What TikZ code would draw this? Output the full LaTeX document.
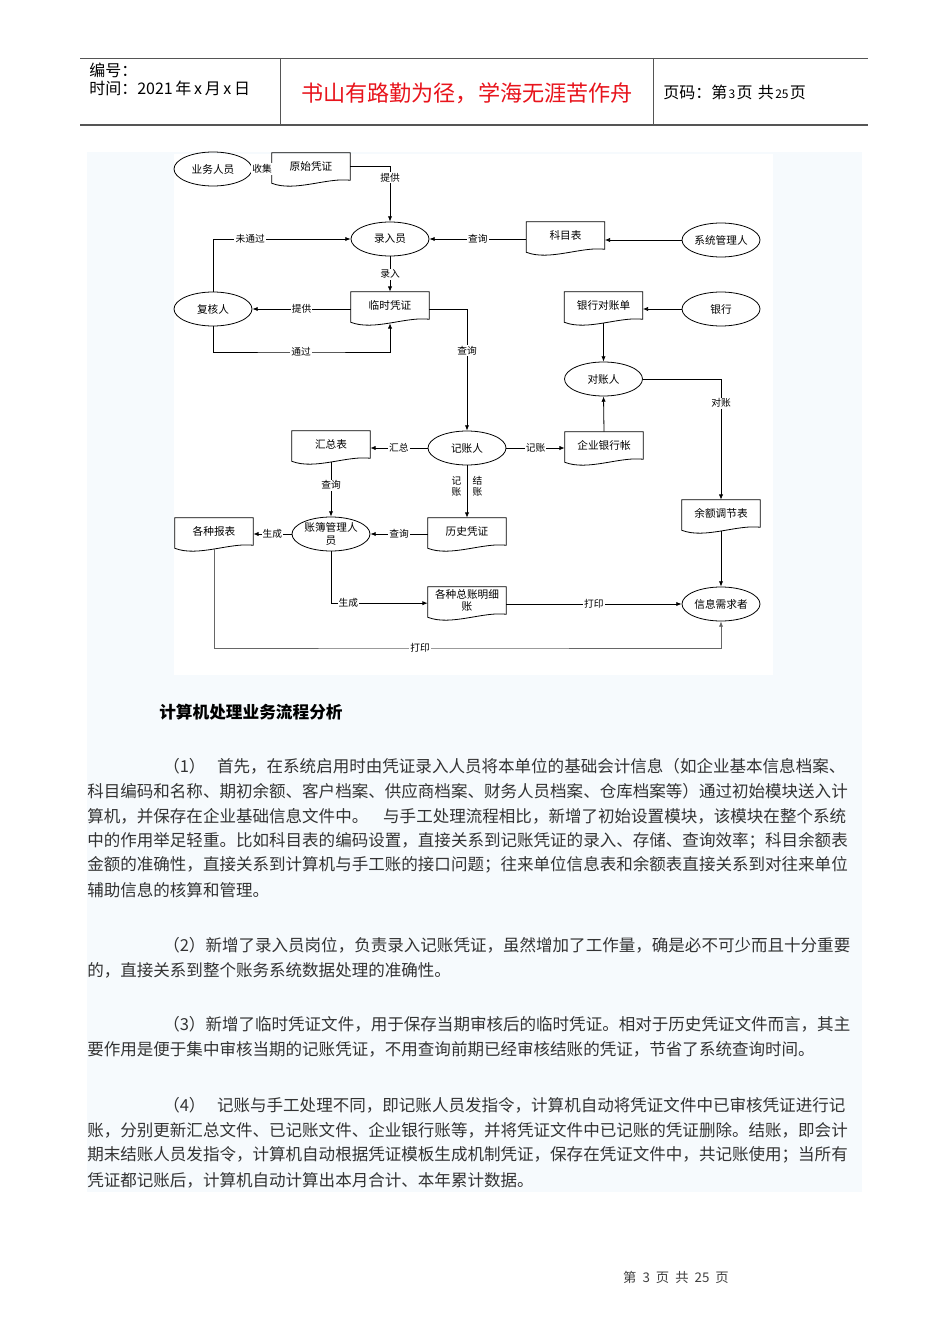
\documentclass[tikz,border=0pt]{standalone}
\usepackage{fontspec}
\setmainfont{Noto Sans CJK SC}
\usetikzlibrary{shapes.geometric, arrows.meta, calc}
\XeTeXlinebreaklocale "zh"
\XeTeXlinebreakskip=0pt plus 3pt
\definecolor{pagetint}{HTML}{F6FAFD}
\definecolor{titlered}{HTML}{E8141C}
\definecolor{rulegray}{HTML}{555555}
\newcommand{\dgfont}{\fontsize{8}{9.5}\selectfont}
\newcommand{\lblfont}{\fontsize{7.3}{8.5}\selectfont}
\newcommand{\fullline}[1]{\makebox[581.25pt][s]{#1}}
\newcommand{\firstline}[1]{\makebox[524.25pt][s]{#1}}

\begin{document}
\begin{tikzpicture}[x=0.75pt, y=-0.75pt,
    every path/.style={>={Latex[length=4pt,width=3.2pt]}},
    person/.style={ellipse, draw, line width=0.6pt, minimum width=58.5pt,
      minimum height=25.5pt, inner sep=0pt, align=center, font=\dgfont},
    doc/.style={rectangle, minimum width=58.5pt, minimum height=20.25pt,
      inner sep=1pt, align=center, font=\dgfont,
      append after command={\pgfextra{\let\thisdoc\tikzlastnode
        \draw[line width=0.6pt] (\thisdoc.north west) -- (\thisdoc.north east)
          -- (\thisdoc.south east)
          .. controls ($(\thisdoc.south east)+(-23,-3)$) and ($(\thisdoc.south west)+(23,12)$)
          .. ($(\thisdoc.south west)+(0,3)$) -- cycle;}}},
    flow/.style={draw, line width=0.6pt},
    lbl/.style={fill=white, inner sep=0.8pt, font=\lblfont},
    lbl2/.style={inner sep=0pt, align=center, font=\lblfont},
    txt/.style={anchor=west, inner sep=0pt, font=\fontsize{12.4}{14}\selectfont, text=black!80}]

% page
\useasboundingbox (0,0) rectangle (950,1344);
\fill[white] (0,0) rectangle (950,1344);
\fill[pagetint] (87,152) rectangle (862,1192);
\fill[white] (174,154) rectangle (773,675);

% header
\draw[rulegray, line width=0.6pt] (80,58) -- (868,58);
\draw[rulegray, line width=1pt] (80,125) -- (868,125);
\draw[rulegray, line width=0.6pt] (280,58) -- (280,125);
\draw[rulegray, line width=0.6pt] (653,58) -- (653,125);
\node[anchor=west, inner sep=0pt, font=\fontsize{12}{14}\selectfont] (bianhao) at (89,70) {编号：};
\node[anchor=west, inner sep=0pt, font=\fontsize{12}{14}\selectfont] (shijian) at (89,88)
  {时间：2021\hspace{2pt}年\hspace{2pt}x\hspace{2pt}月\hspace{2pt}x\hspace{2pt}日};
\node[font=\fontsize{16.6}{18}\selectfont, text=titlered] (motto) at (467,93) {书山有路勤为径，学海无涯苦作舟};
\node[anchor=west, inner sep=0pt, font=\fontsize{12}{14}\selectfont] (yema) at (663,92)
  {页码：第\hspace{1pt}{\fontsize{9}{10}\selectfont 3}\hspace{1pt}页\hspace{4pt}共\hspace{1pt}{\fontsize{9}{10}\selectfont 25}\hspace{1pt}页};

% diagram nodes
\node[person] (ywry) at (213,169) {业务人员};
\node[doc] (yspz) at (311,166.5) {原始凭证};
\node[person] (lry) at (390,239) {录入员};
\node[doc] (kmb) at (565.5,235.5) {科目表};
\node[person] (xtgl) at (721,240) {系统管理人};
\node[person] (fhr) at (213,309) {复核人};
\node[doc] (lspz) at (390,305.5) {临时凭证};
\node[doc] (yhdzd) at (603.5,305.5) {银行对账单};
\node[person] (yh) at (721,309) {银行};
\node[person] (dzr) at (603.5,379) {对账人};
\node[person] (jzr) at (467,448) {记账人};
\node[doc] (hzb) at (331,444.5) {汇总表};
\node[doc] (qyyhz) at (604,445.5) {企业银行帐};
\node[doc] (yetjb) at (721,513.5) {余额调节表};
\node[doc] (gzbb) at (214,531.5) {各种报表};
\node[person] (zbgl) at (331,534) {账簿管理人\\员};
\node[doc] (lshpz) at (467,531.5) {历史凭证};
\node[doc] (zzmx) at (467,600.5) {各种总账明细\\账};
\node[person] (xxxq) at (721,604) {信息需求者};

% connectors
\draw[flow] (ywry.east) -- node[lbl] {收集} (ywry.east -| yspz.west);
\draw[flow, ->] (yspz.east) -| node[lbl, pos=0.6] {提供} (lry.north);
\draw[flow, ->] (kmb.west |- lry.east) -- node[lbl] {查询} (lry.east);
\draw[flow, ->] (xtgl.west) -- (kmb.east |- xtgl.west);
\draw[flow, ->] (fhr.north) |- node[lbl, pos=0.635] {未通过} (lry.west);
\draw[flow, ->] (lry.south) -- node[lbl] {录入} (lspz.north);
\draw[flow, ->] (lspz.west |- fhr.east) -- node[lbl] {提供} (fhr.east);
\coordinate (tg) at (301,352);
\draw[flow, ->] (fhr.south) |- (tg) -| ([yshift=-3pt]lspz.south);
\node[lbl] (tgl) at (tg) {通过};
\draw[flow, ->] ([yshift=-3pt]lspz.east) -| node[lbl, pos=0.67] {查询} (jzr.north);
\draw[flow, ->] (yh.west) -- (yhdzd.east |- yh.west);
\draw[flow, ->] ([yshift=-3pt]yhdzd.south) -- (dzr.north);
\draw[flow, ->] (dzr.east) -| node[lbl, pos=0.6] {对账} (yetjb.north);
\draw[flow, ->] (qyyhz.north) -- (dzr.south);
\draw[flow, ->] (jzr.east) -- node[lbl] {记账} (qyyhz.west |- jzr.east);
\draw[flow, ->] (jzr.west) -- node[lbl] {汇总} (hzb.east |- jzr.west);
\draw[flow, ->] (jzr.south) -- node[lbl2, left=4pt, pos=0.4] {记\\账}
  node[lbl2, right=4pt, pos=0.4] {结\\账} (lshpz.north);
\draw[flow, ->] ([yshift=-3pt]hzb.south) -- node[lbl, pos=0.42] {查询} (zbgl.north);
\draw[flow, ->] (lshpz.west |- zbgl.east) -- node[lbl] {查询} (zbgl.east);
\draw[flow, ->] (zbgl.west) -- node[lbl] {生成} (gzbb.east |- zbgl.west);
\draw[flow, ->] (zbgl.south) |- node[lbl, pos=0.59] {生成} ([yshift=-2pt]zzmx.west);
\draw[flow, ->] (zzmx.east |- xxxq.west) -- node[lbl] {打印} (xxxq.west);
\draw[flow, ->] ([yshift=-3pt]yetjb.south) -- (xxxq.north);
\coordinate (dy) at (420,648);
\draw[flow, draw=black!60, ->] ([yshift=-3pt]gzbb.south) |- (dy) -| (xxxq.south);
\node[lbl] (dyl) at (dy) {打印};

% text
\node[anchor=west, inner sep=0pt, font=\fontsize{12.5}{14}\selectfont\bfseries] (head) at (159,712) {计算机处理业务流程分析};

\node[txt] (p1a) at (163,766) {\firstline{（1）\hspace{0.7em}首先，在系统启用时由凭证录入人员将本单位的基础会计信息（如企业基本信息档案、}};
\node[txt] (p1b) at (87,791) {\fullline{科目编码和名称、期初余额、客户档案、供应商档案、财务人员档案、仓库档案等）通过初始模块送入计}};
\node[txt] (p1c) at (87,816) {算机，并保存在企业基础信息文件中。\hspace{0.9em}与手工处理流程相比，新增了初始设置模块，该模块在整个系统};
\node[txt] (p1d) at (87,841) {\fullline{中的作用举足轻重。比如科目表的编码设置，直接关系到记账凭证的录入、存储、查询效率；科目余额表}};
\node[txt] (p1e) at (87,865) {\fullline{金额的准确性，直接关系到计算机与手工账的接口问题；往来单位信息表和余额表直接关系到对往来单位}};
\node[txt] (p1f) at (87,890) {辅助信息的核算和管理。};

\node[txt] (p2a) at (163,945) {\firstline{（2）新增了录入员岗位，负责录入记账凭证，虽然增加了工作量，确是必不可少而且十分重要}};
\node[txt] (p2b) at (87,970) {的，直接关系到整个账务系统数据处理的准确性。};

\node[txt] (p3a) at (163,1024) {\firstline{（3）新增了临时凭证文件，用于保存当期审核后的临时凭证。相对于历史凭证文件而言，其主}};
\node[txt] (p3b) at (87,1049) {要作用是便于集中审核当期的记账凭证，不用查询前期已经审核结账的凭证，节省了系统查询时间。};

\node[txt] (p4a) at (163,1105) {\firstline{（4）\hspace{0.7em}记账与手工处理不同，即记账人员发指令，计算机自动将凭证文件中已审核凭证进行记}};
\node[txt] (p4b) at (87,1130) {\fullline{账，分别更新汇总文件、已记账文件、企业银行账等，并将凭证文件中已记账的凭证删除。结账，即会计}};
\node[txt] (p4c) at (87,1155) {\fullline{期末结账人员发指令，计算机自动根据凭证模板生成机制凭证，保存在凭证文件中，共记账使用；当所有}};
\node[txt] (p4d) at (87,1180) {凭证都记账后，计算机自动计算出本月合计、本年累计数据。};

% footer
\node[font=\fontsize{10}{12}\selectfont, text=black!75] (foot) at (676,1277)
  {第\hspace{0.45em}3\hspace{0.45em}页\hspace{0.45em}共\hspace{0.45em}25\hspace{0.45em}页};
\end{tikzpicture}
\end{document}
